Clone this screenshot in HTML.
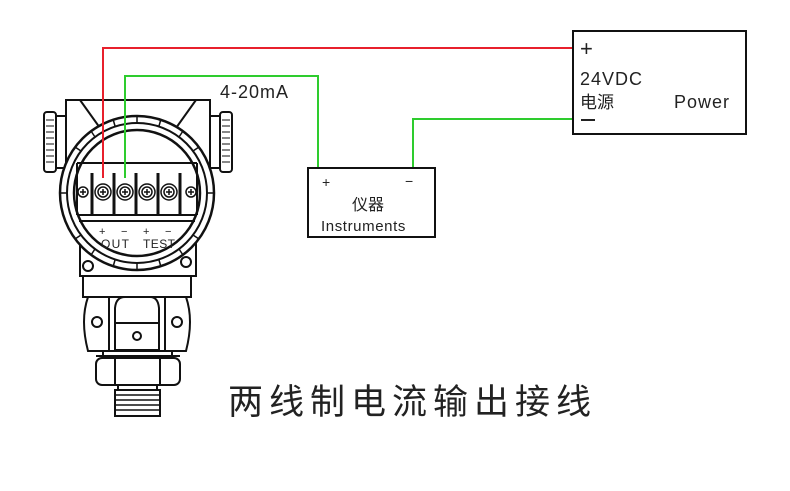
<!DOCTYPE html>
<html><head><meta charset="utf-8"><style>
html,body{margin:0;padding:0;background:#fff;}
svg{display:block;}
text{font-family:"Liberation Sans","Noto Sans CJK SC",sans-serif;fill:#222;}
</style></head><body>
<svg width="790" height="491" viewBox="0 0 790 491" xmlns="http://www.w3.org/2000/svg">
<g fill="none" stroke="#111" stroke-width="2">
  <!-- top box -->
  <path d="M66 130 L66 100 L210 100 L210 130"/>
  <path d="M80 100 L100 128 M196 100 L176 128"/>
  <!-- side knobs -->
  <rect x="44" y="112" width="12" height="60" rx="3" fill="#fff"/>
  <rect x="56" y="116" width="10" height="52" fill="#fff"/>
  <rect x="220" y="112" width="12" height="60" rx="3" fill="#fff"/>
  <rect x="210" y="116" width="10" height="52" fill="#fff"/>
  <path d="M46 120h8M46 126h8M46 132h8M46 138h8M46 144h8M46 150h8M46 156h8M46 162h8M222 120h8M222 126h8M222 132h8M222 138h8M222 144h8M222 150h8M222 156h8M222 162h8" stroke-width="1"/>
  <!-- lower housing under circle -->
  <path d="M80 240 L80 276 L196 276 L196 240"/>
  <circle cx="88" cy="266" r="5"/>
  <circle cx="186" cy="262" r="5"/>
  <!-- circle -->
  <circle cx="137" cy="193" r="77" fill="#fff" stroke-width="2.5"/>
  <circle cx="137" cy="193" r="70"/>
  <circle cx="137" cy="193" r="63" stroke-width="2.5"/>
  <g stroke-width="1.5">
    <path d="M137 116 L137 123 M137 263 L137 270 M60 193 L67 193 M207 193 L214 193"/>
    <path d="M91 131 L95 137 M183 131 L179 137 M75 147 L81 151 M199 147 L193 151 M91 255 L95 249 M183 255 L179 249 M75 239 L81 235 M199 239 L193 235 M113 119 L115 126 M161 119 L159 126 M113 267 L115 260 M161 267 L159 260"/>
  </g>
  <!-- terminal block -->
  <path d="M77 163 L197 163 M77 163 L77 215 M197 163 L197 215 M77 215 L197 215 M79 221 L195 221"/>
  <path d="M92 173 L92 215 M114 173 L114 215 M136 173 L136 215 M158 173 L158 215 M180 173 L180 215" stroke-width="3"/>
  <g stroke-width="1.5">
    <circle cx="83" cy="192" r="5"/>
    <circle cx="191" cy="192" r="5"/>
    <circle cx="103" cy="192" r="8"/><circle cx="103" cy="192" r="5"/>
    <circle cx="125" cy="192" r="8"/><circle cx="125" cy="192" r="5"/>
    <circle cx="147" cy="192" r="8"/><circle cx="147" cy="192" r="5"/>
    <circle cx="169" cy="192" r="8"/><circle cx="169" cy="192" r="5"/>
    <path d="M80 192h6M83 189v6M188 192h6M191 189v6M100 192h6M103 189v6M122 192h6M125 189v6M144 192h6M147 189v6M166 192h6M169 189v6"/>
  </g>
  <!-- body -->
  <rect x="83" y="276" width="108" height="21" fill="#fff"/>
  <path d="M88 297 Q80 320 88 351 L186 351 Q194 320 186 297"/>
  <path d="M109 297 L109 351 M165 297 L165 351"/>
  <path d="M115 330 L115 308 Q116 297 125 297 L150 297 Q158 297 159 308 L159 330"/>
  <rect x="115" y="323" width="44" height="27"/>
  <circle cx="97" cy="322" r="5"/><circle cx="177" cy="322" r="5"/><circle cx="137" cy="336" r="4"/>
  <path d="M103 351 L103 357 M172 351 L172 357 M96 356 L180 356"/>
  <rect x="96" y="358" width="84" height="27" rx="6"/>
  <path d="M115 358 L115 385 M160 358 L160 385"/>
  <path d="M118 385 L118 390 M157 385 L157 390"/>
  <rect x="115" y="390" width="45" height="26"/>
  <path d="M115 395h45M115 400h45M115 405h45M115 410h45" stroke-width="1.5"/>
</g>
<text x="99" y="235" font-size="11">+</text>
<text x="121" y="235" font-size="11">−</text>
<text x="143" y="235" font-size="11">+</text>
<text x="165" y="235" font-size="11">−</text>
<text x="101" y="248" font-size="12" textLength="28">OUT</text>
<text x="143" y="248" font-size="12" textLength="32">TEST</text>
<!-- wires -->
<polyline points="103,178 103,48 573,48" fill="none" stroke="#e8202c" stroke-width="2"/>
<polyline points="125,178 125,76 318,76 318,168" fill="none" stroke="#2ecc2e" stroke-width="2"/>
<polyline points="413,168 413,119 573,119" fill="none" stroke="#2ecc2e" stroke-width="2"/>
<!-- boxes -->
<rect x="573" y="31" width="173" height="103" fill="none" stroke="#111" stroke-width="2"/>
<rect x="308" y="168" width="127" height="69" fill="none" stroke="#111" stroke-width="2"/>
<text x="220" y="98" font-size="18" letter-spacing="1">4-20mA</text>
<text x="580" y="56" font-size="22">+</text>
<text x="580" y="85" font-size="18" letter-spacing="1">24VDC</text>
<text x="580" y="108" font-size="17">电源</text>
<text x="674" y="108" font-size="18" letter-spacing="1">Power</text>
<rect x="581" y="119" width="14" height="2" fill="#222"/>
<text x="322" y="187" font-size="14">+</text>
<text x="405" y="186" font-size="14">−</text>
<text x="352" y="210" font-size="16">仪器</text>
<text x="321" y="231" font-size="15" letter-spacing="0.6">Instruments</text>
<text x="228" y="414" font-size="35" letter-spacing="6">两线制电流输出接线</text>
</svg>
</body></html>
